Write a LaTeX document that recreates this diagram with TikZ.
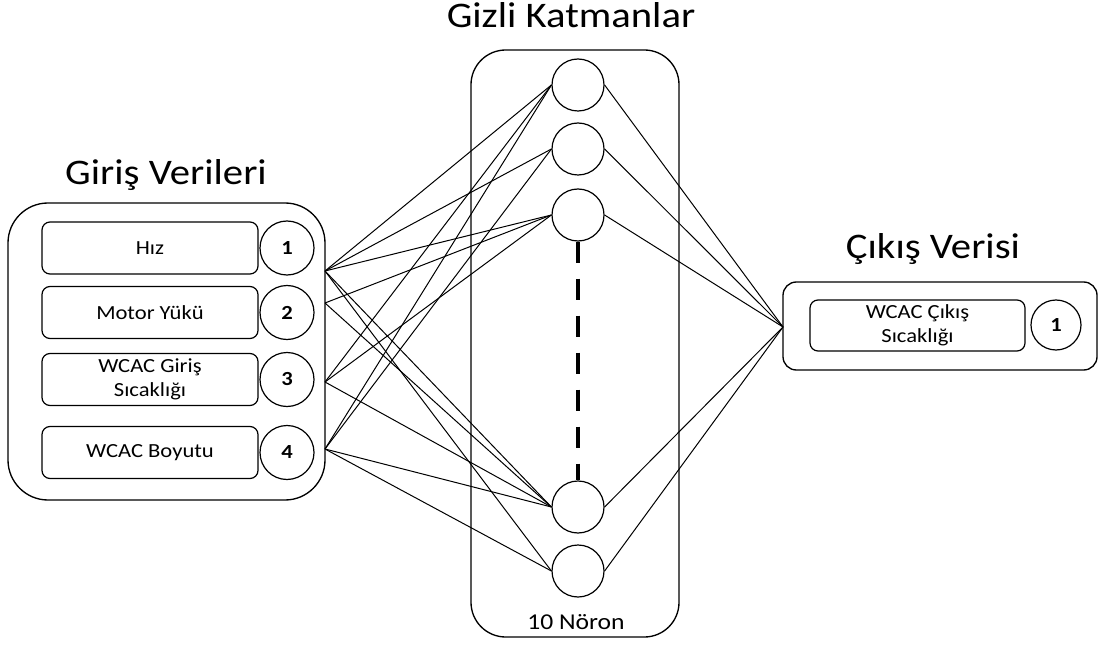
\documentclass[tikz,border=0pt]{standalone}
\usepackage{fontspec}
\setmainfont{Carlito}[FakeStretch=1.13]
\usetikzlibrary{calc,positioning}

\begin{document}
\begin{tikzpicture}[x=0.75pt, y=-0.75pt]
\tikzset{groupbox/.style={draw, line width=1pt},
inbox/.style={draw, rounded corners=6pt, line width=0.9pt, minimum width=162pt, minimum height=39pt, inner sep=1pt, align=center, font=\fontsize{15}{18}\selectfont},
numnode/.style={draw, circle, line width=0.9pt, minimum size=40.5pt, inner sep=0pt, font=\fontsize{15}{17}\selectfont\bfseries},
neuron/.style={draw, circle, line width=0.9pt, minimum size=39pt, inner sep=0pt},
grouptitle/.style={anchor=base, font=\fontsize{27}{30}\selectfont},
link/.style={line width=0.75pt}}

\useasboundingbox (0,0) rectangle (1099,645);

%% Groups
\node (ingroup) [groupbox, rounded corners=30pt, minimum width=237.75pt, minimum height=222.75pt] at (166.5,351.5) {};
\node (hidgroup) [groupbox, rounded corners=26pt, minimum width=156pt, minimum height=440.25pt] at (575,343.5) {};
\node (outgroup) [groupbox, rounded corners=10pt, minimum width=235.5pt, minimum height=66pt] at (940,326) {};

\node (intitle) [grouptitle] at (166,185) {Giriş Verileri};
\node (hidtitle) [grouptitle] at (571,28) {Gizli Katmanlar};
\node (outtitle) [grouptitle] at (933,258) {Çıkış Verisi};
\node (hidcount) [anchor=base, font=\fontsize{17}{20}\selectfont] at (576,629) {10 Nöron};

%% Inputs
\foreach \u/\y/\lab/\num in {in1/248/Hız/1, in2/312.5/Motor Yükü/2, in3/379.5/{WCAC Giriş\\Sıcaklığı}/3, in4/452.5/WCAC Boyutu/4} {
  \node (\u) [inbox] at (150,\y) {\lab};
  \node (\u num) [numnode] at (287,\y) {\num};
}

%% Hidden neurons
\foreach \u/\y in {n1/85, n2/149, n3/215, n4/507, n5/571} \node (\u) [neuron] at (578,\y) {};
\draw [line width=3.5pt, dash pattern=on 15.75pt off 12pt] (n3) -- (n4);

%% Output
\node (out1) [inbox, minimum width=161.25pt, minimum height=38.25pt] at (917.5,325.5) {WCAC Çıkış\\Sıcaklığı};
\node (out1num) [numnode, minimum size=37.5pt] at (1056,325) {1};

%% Edges
\coordinate (p1) at (325,271);
\coordinate (p2) at (325,303);
\coordinate (p3) at (325,382);
\coordinate (p4) at (325,449);
\coordinate (q1) at (783,327);

\foreach \p/\n in {p1/n1, p1/n2, p1/n3, p1/n4, p1/n5, p2/n3, p2/n4, p3/n1, p3/n3, p3/n4, p4/n1, p4/n2, p4/n4, p4/n5}
  \draw [link] (\p) -- (\n.west);
\foreach \n in {n1,n2,n3,n4,n5} \draw [link] (\n.east) -- (q1);

\end{tikzpicture}
\end{document}
